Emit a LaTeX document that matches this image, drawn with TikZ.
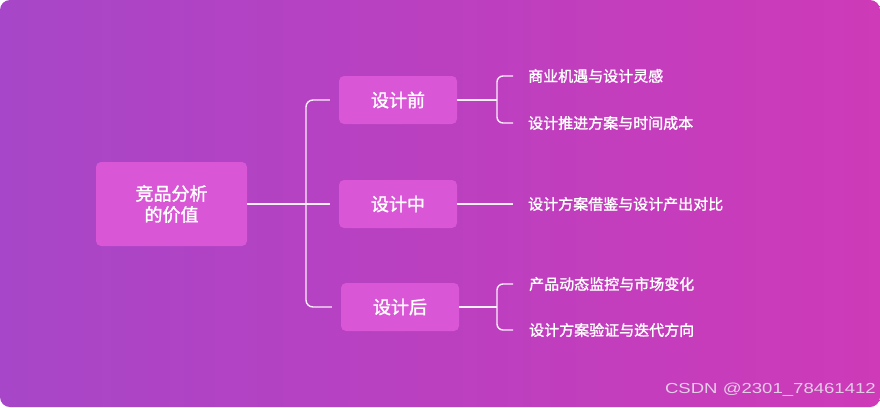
\documentclass[tikz,border=0pt]{standalone}
\usepackage{fontspec}
\newfontfamily\cjk[BoldFont={Noto Sans CJK SC}, BoldFeatures={FakeBold=1.5}]{Noto Sans CJK SC}
\setsansfont{Liberation Sans}
\usetikzlibrary{calc}
\definecolor{bgL}{HTML}{A746C8}
\definecolor{bgR}{HTML}{CE3AB8}
\definecolor{boxc}{HTML}{D957D6}
\definecolor{linec}{HTML}{FBEFFB}
\definecolor{wmc}{HTML}{E3CDE6}
\tikzset{
  conn/.style={draw=linec, line width=1.4pt},
  box/.style={fill=boxc, rounded corners=5pt, minimum width=118pt, minimum height=48pt, inner sep=0pt,
    text=white, font=\cjk\bfseries\fontsize{18}{22}\selectfont, align=center},
  leaf/.style={anchor=west, inner sep=0pt, text=white, font=\cjk\bfseries\fontsize{15}{18}\selectfont}
}
\begin{document}
\begin{tikzpicture}[x=1pt,y=-1pt]
\useasboundingbox (0,0) rectangle (880,407);
\fill[white] (0,0) rectangle (880,407);
\shade[rounded corners=10pt, left color=bgL, right color=bgR] (0,0) rectangle (880,407);

\node[box, minimum width=151pt, minimum height=84pt] (root) at (171.5,204) {竞品分析\\[-1pt]的价值};
\node[box] (qian) at (398,100) {设计前};
\node[box] (zhong) at (398,204) {设计中};
\node[box] (hou) at (400,307) {设计后};

\node[leaf] (a1) at (528,76) {商业机遇与设计灵感};
\node[leaf] (a2) at (528,123) {设计推进方案与时间成本};
\node[leaf] (b1) at (528,204) {设计方案借鉴与设计产出对比};
\node[leaf] (c1) at (529,284) {产品动态监控与市场变化};
\node[leaf] (c2) at (529,330) {设计方案验证与迭代方向};

\coordinate (trunk) at (306,204);
\coordinate (br1) at (497,100);
\coordinate (br3) at (497,307);

\draw[conn] (root.east) -- ([xshift=-9pt]zhong.west);
\draw[conn, rounded corners=7pt] ([xshift=-9pt]qian.west) -| (trunk) |- ([xshift=-9pt]hou.west);

\draw[conn] (qian.east) -- (br1);
\draw[conn, rounded corners=6pt] ([xshift=-15pt]a1.west) -| (br1) |- ([xshift=-15pt]a2.west);
\draw[conn] (zhong.east) -- ([xshift=-15pt]b1.west);
\draw[conn] (hou.east) -- (br3);
\draw[conn, rounded corners=6pt] ([xshift=-16pt]c1.west) -| (br3) |- ([xshift=-16pt]c2.west);

\node[anchor=east, inner sep=0pt, text=wmc, font=\sffamily\fontsize{14.5}{16}\selectfont] (wm) at (876,390)
  {\scalebox{1.28}[1]{CSDN @2301\_78461412}};
\end{tikzpicture}
\end{document}
